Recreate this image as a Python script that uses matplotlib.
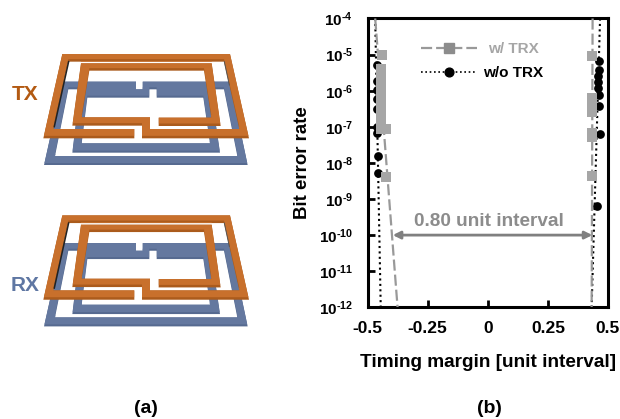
import numpy as np
import matplotlib
matplotlib.use("Agg")
import matplotlib.pyplot as plt
from matplotlib.lines import Line2D
from matplotlib.patches import Polygon

plt.rcParams['font.family'] = ['Liberation Sans', 'DejaVu Sans']
plt.rcParams['font.weight'] = 'bold'
plt.rcParams['mathtext.fontset'] = 'custom'
plt.rcParams['mathtext.rm'] = 'Liberation Sans:bold'
plt.rcParams['mathtext.default'] = 'rm'

# Measured data (timing margin in unit intervals, log10 of bit error rate)
trx_left_x = [-0.44, -0.443, -0.443, -0.443, -0.443, -0.443, -0.443, -0.443, -0.443, -0.443, -0.443, -0.443, -0.443, -0.421, -0.424]
trx_left_log = [-5.02, -5.40, -5.55, -5.70, -5.85, -6.00, -6.15, -6.30, -6.45, -6.60, -6.75, -6.90, -7.05, -7.05, -8.40]
trx_right_x = [0.433, 0.433, 0.433, 0.433, 0.433, 0.433, 0.433, 0.433, 0.433]
trx_right_log = [-5.05, -6.19, -6.30, -6.42, -6.53, -6.60, -7.16, -7.27, -8.35]
notrx_left_x = [-0.461, -0.461, -0.461, -0.461, -0.461, -0.461, -0.461, -0.457, -0.457]
notrx_left_log = [-5.28, -5.72, -5.97, -6.22, -6.52, -7.01, -7.17, -7.81, -8.29]
notrx_right_x = [0.462, 0.462, 0.458, 0.458, 0.46, 0.462, 0.462, 0.466, 0.456]
notrx_right_log = [-5.19, -5.44, -5.58, -5.76, -5.92, -6.13, -6.42, -7.20, -9.20]

# Fitted bathtub edges
fit_log = [-4, -12]
trx_fit_left = [-0.468, -0.375]
trx_fit_right = [0.436, 0.432]
notrx_fit_left = [-0.468, -0.445]
notrx_fit_right = [0.467, 0.432]

xticks = [-0.5, -0.25, 0, 0.25, 0.5]
xticklabels = ['-0.5', '-0.25', '0', '0.25', '0.5']
yticks = [-4, -5, -6, -7, -8, -9, -10, -11, -12]

W, H = 620, 419
GRAY_LINE, GRAY_MARK = '#999999', '#a6a6a6'

fig = plt.figure(figsize=(W / 100, H / 100), dpi=100)

# ---- Panel (a): coil illustration, in pixel coordinates
ill = fig.add_axes([0, 0, 1, 1])
ill.set_xlim(0, W)
ill.set_ylim(H, 0)
ill.axis('off')

blue_outline = [(408,155),(188,155),(132,405),(743,405),(690,155),(428,155),(428,178),(240,178),
                (217,368),(660,368),(632,178),(470,178),(470,203),(610,203),(630,340),(245,340),
                (262,203),(448,203),(448,178),(672,178),(712,378),(165,378),(205,178),(408,178)]
orange_outline = [(403,325),(130,325),(187,72),(690,72),(747,325),(426,325),(426,287),(217,287),
                  (243,100),(635,100),(662,288),(476,288),(476,263),(634,263),(612,122),(268,122),
                  (245,262),(450,262),(450,297),(718,297),(672,95),(205,95),(160,297),(403,297)]


def coil(outline, dy, dark, light, shift):
    pts = np.array(outline, float) / 3 + [0, dy]
    base = Polygon(pts, closed=True, fc=dark, ec='none')
    ill.add_patch(base)
    top = Polygon(pts - [0, shift], closed=True, fc=light, ec='none')
    ill.add_patch(top)
    top.set_clip_path(base)


for dy in (30, 191.4):
    coil(blue_outline, dy, '#566a90', '#64789f', 2.0)
    ill.plot([205 / 3 + 0.3, 162 / 3 + 0.3], [95 / 3 + dy, 290 / 3 + dy], color='#222222', lw=1.1)
    ill.plot([672 / 3 + 0.3, 688 / 3], [95 / 3 + dy, 165 / 3 + dy], color='#555555', lw=0.7)
    coil(orange_outline, dy, '#ab5b1c', '#c8702c', 2.5)

ill.text(25, 94, 'TX', color='#b35a12', fontsize=15, ha='center', va='center')
ill.text(25, 285, 'RX', color='#5f77a3', fontsize=15, ha='center', va='center')
ill.text(146, 408, '(a)', color='black', fontsize=14, ha='center', va='center')
ill.text(489, 408, '(b)', color='black', fontsize=14, ha='center', va='center')

# ---- Panel (b): bathtub plot
left, right, top_px, bottom = 367.5, 608, 18.5, 307.3
ax = fig.add_axes([left / W, 1 - bottom / H, (right - left) / W, (bottom - top_px) / H])
ax.patch.set_alpha(0)
ax.set_xlim(-0.5, 0.5)
ax.set_ylim(1e-12, 1e-4)
ax.set_yscale('log')


def ber(values):
    return [10.0 ** v for v in values]


dash = (0, (5, 1.8))
dot = (0, (1, 1.6))
for xs in (notrx_fit_left, notrx_fit_right):
    ax.plot(xs, ber(fit_log), color='black', lw=1.5, ls=dot, zorder=2)
ax.plot(notrx_left_x, ber(notrx_left_log), 'o', color='black', ms=6.3, mew=0, zorder=3)
ax.plot(notrx_right_x, ber(notrx_right_log), 'o', color='black', ms=6.3, mew=0, zorder=3)
for xs in (trx_fit_left, trx_fit_right):
    ax.plot(xs, ber(fit_log), color=GRAY_LINE, lw=1.6, ls=dash, zorder=4)
ax.plot(trx_left_x, ber(trx_left_log), 's', color=GRAY_MARK, ms=6.5, mew=0, zorder=5)
ax.plot(trx_right_x, ber(trx_right_log), 's', color=GRAY_MARK, ms=6.5, mew=0, zorder=5)

for s in ax.spines.values():
    s.set_linewidth(2.2)
ax.set_xticks(xticks)
ax.set_xticklabels(xticklabels)
ax.set_yticks(ber(yticks))
ax.set_yticklabels([r'$10^{\text{-}%d}$' % abs(v) for v in yticks])
ax.minorticks_off()
ax.tick_params(axis='x', direction='in', width=2.0, length=5, labelsize=12.5, pad=10)
ax.tick_params(axis='y', direction='in', width=2.0, length=5, labelsize=11.0, pad=10.5)
ax.set_xlabel('Timing margin [unit interval]', fontsize=13.7, fontweight='bold', labelpad=12.5)
ax.set_ylabel('Bit error rate', fontsize=13.4, fontweight='bold')
ax.yaxis.set_label_coords(-0.235, 0.4997)

ax.annotate('', xy=(-0.395, 1e-10), xytext=(0.435, 1e-10),
            arrowprops=dict(arrowstyle='<|-|>', color='#808080', lw=2, shrinkA=0, shrinkB=0, mutation_scale=11))
ax.text(0.007, 10 ** -9.63, '0.80 unit interval', color='#8c8c8c', fontsize=13.7, ha='center', va='center')

trx_handle = Line2D([], [], color=GRAY_LINE, lw=1.6, ls=dash, marker='s', ms=6.5, mfc='#8c8c8c', mec='#8c8c8c')
notrx_handle = Line2D([], [], color='black', lw=1.2, ls=dot, marker='o', ms=6.3, mfc='black', mec='black')
leg_opts = dict(loc='center left', frameon=False, borderpad=0, borderaxespad=0, handlelength=3.67)
leg1 = ax.legend([trx_handle], ['w/ TRX'], bbox_to_anchor=(0.2225, 0.894), handletextpad=0.72,
                 prop={'size': 11, 'weight': 'bold'}, labelcolor=GRAY_MARK, **leg_opts)
ax.add_artist(leg1)
ax.legend([notrx_handle], ['w/o TRX'], bbox_to_anchor=(0.2225, 0.810), handletextpad=0.39,
          prop={'size': 11, 'weight': 'bold'}, labelcolor='black', **leg_opts)

fig.savefig('out.png', dpi=100)
